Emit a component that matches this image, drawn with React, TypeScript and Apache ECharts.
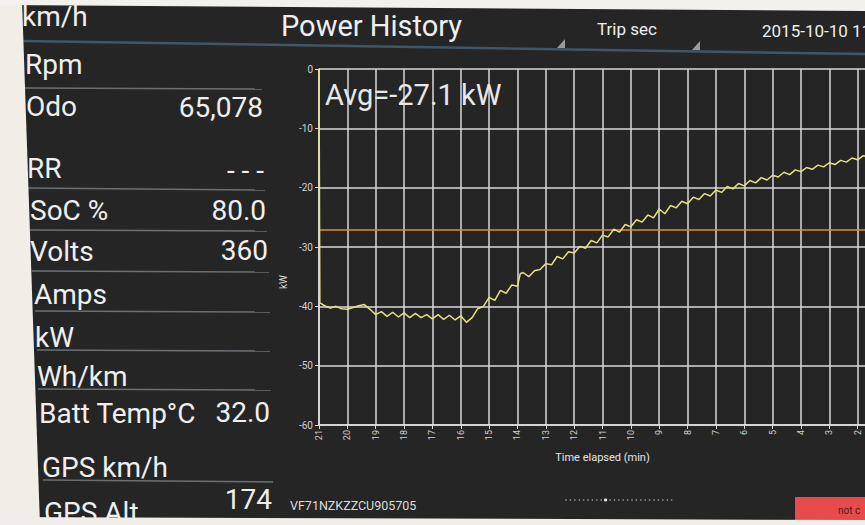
import React, { useEffect, useRef } from "react";
import * as echarts from "echarts";

// ---- data ----
const elapsedMin = [
  21.0, 20.97, 20.8, 20.6, 20.4, 20.2, 20.0, 19.8, 19.6, 19.4, 19.2, 19.0,
  18.8, 18.6, 18.4, 18.2, 18.0, 17.8, 17.6, 17.4, 17.2, 17.0, 16.8, 16.6,
  16.4, 16.2, 16.0, 15.8, 15.6, 15.4, 15.2, 15.0, 14.8, 14.6, 14.4, 14.2,
  14.0, 13.9, 13.8, 13.6, 13.4, 13.2, 13.0, 12.8, 12.6, 12.4, 12.2, 12.0,
  11.8, 11.6, 11.4, 11.2, 11.0, 10.8, 10.6, 10.4, 10.2, 10.0, 9.8, 9.6,
  9.4, 9.2, 9.0, 8.8, 8.6, 8.4, 8.2, 8.0, 7.8, 7.6, 7.4, 7.2,
  7.0, 6.8, 6.6, 6.4, 6.2, 6.0, 5.8, 5.6, 5.4, 5.2, 5.0, 4.8,
  4.6, 4.4, 4.2, 4.0, 3.8, 3.6, 3.4, 3.2, 3.0, 2.8, 2.6, 2.4,
  2.2, 2.0, 1.8, 1.6, 1.4, 1.2,
];
const powerKw = [
  0, -39.4, -39.9, -40.3, -40.0, -40.4, -40.5, -40.2, -39.9, -39.7, -40.5, -41.4,
  -40.9, -41.7, -41.0, -41.8, -41.1, -41.9, -41.2, -41.9, -41.4, -42.1, -41.4, -42.2,
  -41.5, -42.3, -41.6, -42.7, -41.9, -40.4, -40.0, -38.5, -39.0, -37.3, -37.8, -36.4,
  -36.6, -34.5, -34.3, -35.0, -34.0, -33.8, -32.8, -33.0, -31.6, -32.0, -30.8, -31.0,
  -29.9, -30.2, -28.9, -29.3, -28.0, -28.3, -27.0, -27.5, -26.2, -26.6, -25.4, -25.8,
  -24.6, -25.1, -23.6, -24.4, -23.0, -23.4, -22.3, -22.7, -21.6, -22.0, -21.0, -21.4,
  -20.4, -20.8, -19.8, -20.2, -19.3, -19.7, -18.8, -19.2, -18.3, -18.7, -17.9, -18.2,
  -17.4, -17.8, -17.0, -17.3, -16.6, -16.9, -16.2, -16.5, -15.8, -16.1, -15.4, -15.7,
  -15.0, -15.3, -14.6, -14.9, -14.2, -14.4,
];
const avgKw = -27.1;
const avgText = "Avg=-27.1 kW";

const panelLabels = [
  "km/h", "Rpm", "Odo", "RR", "SoC %", "Volts", "Amps", "kW", "Wh/km",
  "Batt Temp°C", "GPS km/h", "GPS Alt",
];
const panelValues = ["", "", "65,078", "- - -", "80.0", "360", "", "", "", "32.0", "", "174"];

const titleText = "Power History";
const tripText = "Trip sec";
const dateText = "2015-10-10 11";
const vinText = "VF71NZKZZCU905705";
const statusText = "not c";
const xName = "Time elapsed (min)";
const yName = "kW";

export default function App() {
  const ref = useRef<HTMLDivElement>(null);

  useEffect(() => {
    if (!ref.current) return;
    const chart = echarts.init(ref.current, undefined, { renderer: "svg" });
    const FONT = "Roboto, 'Noto Sans', sans-serif";
    const textFill = "#efefef";

    // layout of the left info panel
    const labelPos = [
      [22, 16], [25, 64], [26, 106], [27, 168], [30, 210], [30, 251],
      [34, 294], [35, 337], [37, 376], [39, 413], [42, 467], [44, 512],
    ];
    const valuePos = [
      [0, 0], [0, 0], [263, 107], [264, 170], [266, 210], [268, 250],
      [0, 0], [0, 0], [0, 0], [270, 412], [0, 0], [272, 499],
    ];
    const sepLines = [
      [25, 88, 262, 89], [27, 188, 265, 190], [30, 230, 267, 231],
      [32, 271, 269, 272], [35, 311, 270, 312], [37, 350, 270, 351],
      [38, 389, 271, 390], [43, 480, 273, 482],
    ];

    const graphics: any[] = [];
    panelLabels.forEach((t, i) => {
      graphics.push({
        type: "text", x: labelPos[i][0], y: labelPos[i][1], z: 50,
        style: { text: t, fill: textFill, font: `28px ${FONT}`, textAlign: "left", textVerticalAlign: "middle", align: "left", verticalAlign: "middle" },
      });
      if (panelValues[i]) {
        graphics.push({
          type: "text", x: valuePos[i][0], y: valuePos[i][1], z: 50,
          style: { text: panelValues[i], fill: textFill, font: `28px ${FONT}`, textAlign: "right", textVerticalAlign: "middle", align: "right", verticalAlign: "middle" },
        });
      }
    });
    sepLines.forEach((l) => {
      graphics.push({ type: "line", z: 40, shape: { x1: l[0], y1: l[1], x2: l[2], y2: l[3] }, style: { stroke: "#6b6f74", lineWidth: 1.5 } });
    });
    // header separator
    graphics.push({ type: "line", z: 40, shape: { x1: 22, y1: 41, x2: 865, y2: 54 }, style: { stroke: "#3f5666", lineWidth: 2.5 } });
    // header texts
    graphics.push({ type: "text", x: 281, y: 26, z: 50, style: { text: titleText, fill: textFill, font: `29px ${FONT}`, textVerticalAlign: "middle", verticalAlign: "middle" } });
    graphics.push({ type: "text", x: 597, y: 29, z: 50, style: { text: tripText, fill: textFill, font: `17px ${FONT}`, textVerticalAlign: "middle", verticalAlign: "middle" } });
    graphics.push({ type: "text", x: 762, y: 31, z: 50, style: { text: dateText, fill: textFill, font: `17px ${FONT}`, textVerticalAlign: "middle", verticalAlign: "middle" } });
    // spinner corner triangles
    graphics.push({ type: "polygon", z: 50, shape: { points: [[557, 48], [565, 48], [565, 39]] }, style: { fill: "#9a9a9a" } });
    graphics.push({ type: "polygon", z: 50, shape: { points: [[692, 50], [700, 50], [700, 41]] }, style: { fill: "#9a9a9a" } });
    // avg label
    graphics.push({ type: "text", x: 325, y: 95, z: 50, style: { text: avgText, fill: "#e8e8e8", font: `29px ${FONT}`, textVerticalAlign: "middle", verticalAlign: "middle" } });
    // y axis name
    graphics.push({ type: "text", x: 283, y: 282, z: 50, rotation: Math.PI / 2, style: { text: yName, fill: "#d6d6d6", font: `10px ${FONT}`, textAlign: "center", textVerticalAlign: "middle", align: "center", verticalAlign: "middle" } });
    // bottom bar
    graphics.push({ type: "text", x: 290, y: 505, z: 50, style: { text: vinText, fill: "#dcdcdc", font: `12.5px ${FONT}`, textVerticalAlign: "middle", verticalAlign: "middle" } });
    for (let k = 0; k < 25; k++) {
      graphics.push({ type: "circle", z: 50, shape: { cx: 566 + k * 4.4, cy: 500, r: k === 9 ? 1.6 : 0.8 }, style: { fill: k === 9 ? "#e6e6e6" : "#8a8a8a" } });
    }
    graphics.push({ type: "rect", z: 50, shape: { x: 795, y: 497, width: 80, height: 24 }, style: { fill: "#e84b4b" } });
    graphics.push({ type: "text", x: 838, y: 510, z: 51, style: { text: statusText, fill: "#5a1515", font: `10px ${FONT}`, textVerticalAlign: "middle", verticalAlign: "middle" } });
    // photo margins
    graphics.push({ type: "polygon", z: 100, shape: { points: [[0, 0], [22, 0], [40, 525], [0, 525]] }, style: { fill: "#f1ede7" } });
    graphics.push({ type: "polygon", z: 100, shape: { points: [[0, 0], [865, 0], [865, 11], [0, 5]] }, style: { fill: "#f3f1ee" } });
    graphics.push({ type: "polygon", z: 100, shape: { points: [[0, 517], [865, 520], [865, 525], [0, 525]] }, style: { fill: "#f1eee9" } });

    const lineData = elapsedMin.map((t, i) => [t, powerKw[i]]);

    chart.setOption({
      animation: false,
      backgroundColor: "#252526",
      grid: { left: 319, width: 567, top: 69, bottom: 100, show: false, containLabel: false, outerBoundsMode: "none" },
      xAxis: {
        type: "value", inverse: true, min: 1, max: 21, interval: 1,
        axisLine: { show: true, onZero: false, lineStyle: { color: "#e2e2e2", width: 1.5 } },
        axisTick: { show: true, length: 4, lineStyle: { color: "#d8d8d8" } },
        axisLabel: { rotate: 90, fontSize: 9, color: "#cfcfcf", margin: 5, fontFamily: FONT },
        splitLine: { show: true, lineStyle: { color: "#d9d9d9", width: 1.5 } },
        name: xName, nameLocation: "middle", nameGap: 27,
        nameTextStyle: { color: "#e6e6e6", fontSize: 11, fontFamily: FONT },
      },
      yAxis: {
        type: "value", min: -60, max: 0, interval: 10,
        axisLine: { show: true, onZero: false, lineStyle: { color: "#e2e2e2", width: 1.5 } },
        axisTick: { show: true, length: 4, lineStyle: { color: "#d8d8d8" } },
        axisLabel: { fontSize: 10, color: "#cfcfcf", margin: 6, fontFamily: FONT },
        splitLine: { show: true, lineStyle: { color: "#d9d9d9", width: 1.5 } },
      },
      series: [
        {
          type: "line", data: lineData, showSymbol: false, z: 5,
          lineStyle: { color: "#e6e07e", width: 1.5 },
          markLine: {
            symbol: "none", silent: true, label: { show: false },
            lineStyle: { color: "#e08c2c", width: 1.5, type: "solid" },
            data: [{ yAxis: avgKw }],
          },
        },
      ],
      graphic: graphics,
    });
    return () => chart.dispose();
  }, []);

  return <div ref={ref} style={{ position: "fixed", left: 0, top: 0, width: 865, height: 525 }} />;
}
